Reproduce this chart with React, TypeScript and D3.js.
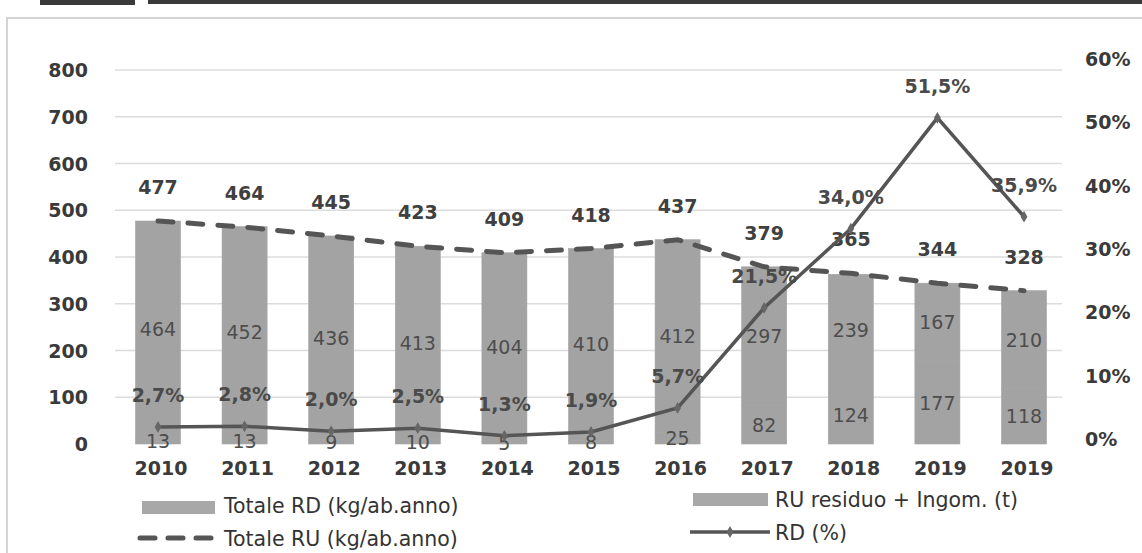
import React from 'react';
import * as d3 from 'd3';

const years = ['2010', '2011', '2012', '2013', '2014', '2015', '2016', '2017', '2018', '2019', '2019'];
const rdKg = [13, 13, 9, 10, 5, 8, 25, 82, 124, 177, 118];
const ruResiduo = [464, 452, 436, 413, 404, 410, 412, 297, 239, 167, 210];
const totaleRU = [477, 464, 445, 423, 409, 418, 437, 379, 365, 344, 328];
const rdPct = [2.7, 2.8, 2.0, 2.5, 1.3, 1.9, 5.7, 21.5, 34.0, 51.5, 35.9];
const leftTicks = [0, 100, 200, 300, 400, 500, 600, 700, 800];
const rightTicks = [0, 10, 20, 30, 40, 50, 60];

const W = 1142;
const H = 553;
const FONT = '"DejaVu Sans", sans-serif';

const App: React.FC = () => {
  const x = d3.scaleBand<number>()
    .domain(years.map((_, i) => i))
    .range([114.7, 1067.3])
    .paddingInner(0.48)
    .paddingOuter(0.24);
  const y = d3.scaleLinear().domain([0, 800]).range([444, 70]);
  const yR = d3.scaleLinear().domain([0, 60]).range([444, 64]);
  const cx = (i: number) => (x(i) ?? 0) + x.bandwidth() / 2;

  const ruLine = d3.line<number>()
    .x((_, i) => cx(i))
    .y(d => y(d));
  const pctLine = d3.line<number>()
    .x((_, i) => cx(i))
    .y(d => yR(d));

  const fmt = (v: number) => v.toFixed(1).replace('.', ',') + '%';
  const diamond = d3.symbol().type(d3.symbolDiamond).size(40);

  return (
    <svg width={W} height={H} style={{ position: 'absolute', left: 0, top: 0, background: '#fff' }}
      fontFamily={FONT}>
      {/* header strip + frame */}
      <rect x={40} y={0} width={95} height={5} fill="#3a3a3a" />
      <rect x={148} y={0} width={994} height={4} fill="#3a3a3a" />
      <rect x={7} y={18} width={1145} height={545} fill="none" stroke="#d4d4d4" strokeWidth={2} />

      {/* gridlines */}
      {leftTicks.filter(t => t > 0).map(t => (
        <line key={t} x1={115} x2={1062} y1={y(t)} y2={y(t)} stroke="#dcdcdc" strokeWidth={1.5} />
      ))}

      {/* left axis */}
      {leftTicks.map(t => (
        <text key={t} x={88} y={y(t) + 7} textAnchor="end" fontSize={19} fontWeight="bold" fill="#3a3a3a">{t}</text>
      ))}
      {/* right axis */}
      {rightTicks.map(t => (
        <text key={t} x={1085} y={yR(t) + 2} fontSize={19} fontWeight="bold" fill="#3a3a3a">{t}%</text>
      ))}

      {/* stacked bars */}
      {years.map((_, i) => (
        <g key={i} fill="#a3a3a3" stroke="#a3a3a3" strokeWidth={0.6}>
          <rect x={x(i)} y={y(rdKg[i])} width={x.bandwidth()} height={y(0) - y(rdKg[i])} />
          <rect x={x(i)} y={y(rdKg[i] + ruResiduo[i])} width={x.bandwidth()}
            height={y(rdKg[i]) - y(rdKg[i] + ruResiduo[i])} />
        </g>
      ))}

      {/* segment labels */}
      {years.map((_, i) => (
        <g key={i} fontSize={19} fill="#4d4d4d" textAnchor="middle">
          <text x={cx(i)} y={(y(0) + y(rdKg[i])) / 2 + 7}>{rdKg[i]}</text>
          <text x={cx(i)} y={(y(rdKg[i]) + y(rdKg[i] + ruResiduo[i])) / 2 + 7}>{ruResiduo[i]}</text>
        </g>
      ))}

      {/* Totale RU dashed line */}
      <path d={ruLine(totaleRU) ?? ''} fill="none" stroke="#555" strokeWidth={5}
        strokeDasharray="15 15" strokeLinecap="round" />
      {totaleRU.map((v, i) => (
        <text key={i} x={cx(i)} y={y(v) - 27} textAnchor="middle" fontSize={19} fontWeight="bold" fill="#404040">{v}</text>
      ))}

      {/* RD % line */}
      <path d={pctLine(rdPct) ?? ''} fill="none" stroke="#555" strokeWidth={3.5} />
      {rdPct.map((v, i) => (
        <path key={i} d={diamond() ?? ''} transform={`translate(${cx(i)},${yR(v)})`} fill="#666" />
      ))}
      {rdPct.map((v, i) => (
        <text key={i} x={cx(i)} y={yR(v) - 25} textAnchor="middle" fontSize={19} fontWeight="bold" fill="#4a4a4a">{fmt(v)}</text>
      ))}

      {/* x axis labels */}
      {years.map((yr, i) => (
        <text key={i} x={cx(i) + 3} y={475} textAnchor="middle" fontSize={19} fontWeight="bold" fill="#3a3a3a">{yr}</text>
      ))}

      {/* legend */}
      <g fontSize={20.5} fill="#333">
        <rect x={142} y={501} width={73} height={13} fill="#a8a8a8" />
        <text x={224} y={513}>Totale RD (kg/ab.anno)</text>
        <line x1={140} x2={212} y1={538} y2={538} stroke="#555" strokeWidth={5} strokeDasharray="15 13" strokeLinecap="round" />
        <text x={224} y={546}>Totale RU (kg/ab.anno)</text>
        <rect x={693} y={493} width={75} height={13} fill="#a8a8a8" />
        <text x={775} y={507}>RU residuo + Ingom. (t)</text>
        <line x1={690} x2={770} y1={532} y2={532} stroke="#555" strokeWidth={3.5} />
        <path d={diamond() ?? ''} transform="translate(730,532)" fill="#666" />
        <text x={775} y={540}>RD (%)</text>
      </g>
    </svg>
  );
};

export default App;
